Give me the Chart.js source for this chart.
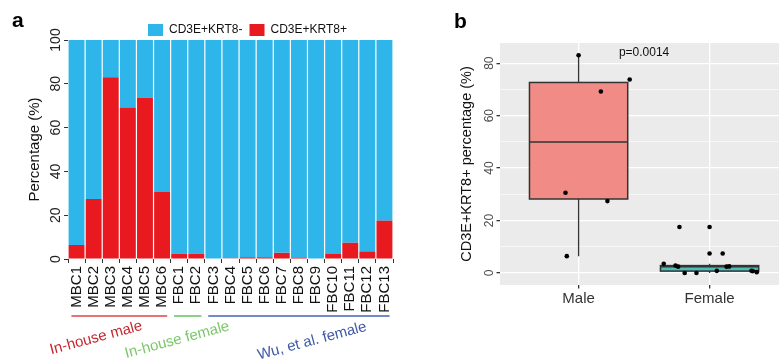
<!DOCTYPE html>
<html><head><meta charset="utf-8">
<script src="https://cdn.jsdelivr.net/npm/chart.js@4/dist/chart.umd.min.js"></script>
<style>
html,body{margin:0;padding:0;background:#fff;overflow:hidden;}
#wrap{position:relative;width:783px;height:363px;overflow:hidden;}
#ca{position:absolute;left:0;top:0;}
#cb{position:absolute;left:440px;top:0;}
</style></head><body>
<div id="wrap">
<canvas id="ca" width="495" height="363"></canvas>
<canvas id="cb" width="343" height="363"></canvas>
</div>
<script>
// ---------- data ----------
const categories = ['MBC1','MBC2','MBC3','MBC4','MBC5','MBC6','FBC1','FBC2','FBC3','FBC4','FBC5','FBC6','FBC7','FBC8','FBC9','FBC10','FBC11','FBC12','FBC13'];
const krt8Pos = [6.4, 27.4, 83, 69.2, 73.8, 30.6, 2.4, 2.4, 0, 0.3, 0.8, 0.8, 2.8, 0.7, 0, 2.5, 7.4, 3.5, 17.5];
const krt8Neg = [93.6, 72.6, 17, 30.8, 26.2, 69.4, 97.6, 97.6, 100, 99.7, 99.2, 99.2, 97.2, 99.3, 100, 97.5, 92.6, 96.5, 82.5];
const seriesNames = ['CD3E+KRT8+', 'CD3E+KRT8-'];
const yTicksA = [0, 20, 40, 60, 80, 100];

const groupNames = ['In-house male', 'In-house female', 'Wu, et al. female'];
const groupStart = [0, 6, 8];
const groupEnd = [5, 7, 18];

const sexLabels = ['Male', 'Female'];
const maleValues = [6.4, 27.4, 83, 69.2, 73.8, 30.6];
const femaleValues = [2.4, 2.4, 0, 0.3, 0.8, 0.8, 2.8, 0.7, 0, 2.5, 7.4, 3.5, 17.5];
// horizontal jitter (category units)
const maleJitter = [-0.09, 0.22, 0.0, 0.17, 0.39, -0.10];
const femaleJitter = [-0.24, 0.13, -0.19, 0.36, 0.055, 0.32, -0.26, 0.33, -0.10, 0.15, 0.10, -0.35, -0.23];
const yTicksB = [0, 10, 20, 30, 40, 50, 60, 70, 80];
const pValueText = 'p=0.0014';

// ---------- styles ----------
const FONT = "'Liberation Sans', Arial, Helvetica, sans-serif";
Chart.defaults.font.family = FONT;
const RED = '#e8191f', BLUE = '#2eb6ea';
const groupStyle = [
  {line:'#e0454a', text:'#c8262e', labelAt:1.14, labelY:338},
  {line:'#72c46e', text:'#7cc66a', labelAt:5.88, labelY:340},
  {line:'#4662b4', text:'#3d5aa8', labelAt:13.77, labelY:341}
];

function panelLetter(letter, x, y) {
  return {
    id: 'letter' + letter,
    afterDraw(chart) {
      const c = chart.ctx; c.save();
      c.font = 'bold 21px ' + FONT; c.fillStyle = '#000';
      c.textAlign = 'left'; c.textBaseline = 'alphabetic';
      c.fillText(letter, x, y); c.restore();
    }
  };
}

const groupPlugin = {
  id: 'groups',
  afterDraw(chart) {
    const xs = chart.scales.x, c = chart.ctx;
    const bw = xs.getPixelForValue(1) - xs.getPixelForValue(0);
    c.save();
    groupNames.forEach((name, i) => {
      const st = groupStyle[i];
      const x1 = xs.getPixelForValue(groupStart[i]) - 0.3 * bw;
      const x2 = xs.getPixelForValue(groupEnd[i]) + 0.3 * bw;
      c.strokeStyle = st.line; c.lineWidth = 1.6;
      c.beginPath(); c.moveTo(x1, 316); c.lineTo(x2, 316); c.stroke();
      c.save();
      c.translate(xs.getPixelForValue(st.labelAt), st.labelY);
      c.rotate(-15 * Math.PI / 180);
      c.font = '15px ' + FONT; c.fillStyle = st.text;
      c.textAlign = 'center'; c.textBaseline = 'middle';
      c.fillText(name, 0, 0);
      c.restore();
    });
    c.restore();
  }
};

// ---------- chart a ----------
new Chart(document.getElementById('ca'), {
  type: 'bar',
  data: {
    labels: categories,
    datasets: [
      {label: seriesNames[0], data: krt8Pos, backgroundColor: RED, borderWidth: 0, barPercentage: 0.93, categoryPercentage: 1},
      {label: seriesNames[1], data: krt8Neg, backgroundColor: BLUE, borderWidth: 0, barPercentage: 0.93, categoryPercentage: 1}
    ]
  },
  options: {
    responsive: false, animation: false,
    layout: {padding: {top: 17, left: 0, right: 0, bottom: 0}},
    plugins: {
      legend: {position: 'top', reverse: true, maxHeight: 23,
        labels: {boxWidth: 15, boxHeight: 12, padding: 7, font: {size: 12}, color: '#111'}},
      tooltip: {enabled: false}
    },
    scales: {
      x: {stacked: true,
        grid: {drawOnChartArea: false, tickLength: 4, tickColor: '#333', tickWidth: 1},
        border: {display: false},
        ticks: {minRotation: 90, maxRotation: 90, autoSkip: false, font: {size: 15}, color: '#111', padding: 3},
        afterFit(s) { s.height = 104; }
      },
      y: {stacked: true, min: 0, max: 100,
        afterBuildTicks(s) { s.ticks = yTicksA.map(v => ({value: v})); },
        ticks: {minRotation: 90, maxRotation: 90, crossAlign: 'center', padding: -4, font: {size: 14}, color: '#222'},
        grid: {drawOnChartArea: false, tickLength: 4, tickColor: '#333'},
        border: {display: false},
        title: {display: true, text: 'Percentage (%)', font: {size: 15}, color: '#111', padding: {top: 26, bottom: 0}},
        afterFit(s) { s.width = 68; }
      },
      yRight: {position: 'right', display: true,
        grid: {display: false}, ticks: {display: false}, border: {display: false},
        afterFit(s) { s.width = 102; }
      }
    }
  },
  plugins: [groupPlugin, panelLetter('a', 12, 27)]
});

// ---------- chart b ----------
function quantile(sorted, p) {
  const h = (sorted.length - 1) * p, lo = Math.floor(h);
  const hi = Math.min(lo + 1, sorted.length - 1);
  return sorted[lo] + (h - lo) * (sorted[hi] - sorted[lo]);
}
function boxStats(vals) {
  const s = vals.slice().sort((a, b) => a - b);
  const q1 = quantile(s, 0.25), med = quantile(s, 0.5), q3 = quantile(s, 0.75);
  const iqr = q3 - q1, lf = q1 - 1.5 * iqr, uf = q3 + 1.5 * iqr;
  const inside = s.filter(v => v >= lf && v <= uf);
  return {q1, med, q3, lo: inside[0], hi: inside[inside.length - 1], out: s.filter(v => v < lf || v > uf)};
}
const groupsB = [maleValues, femaleValues];
const jittersB = [maleJitter, femaleJitter];
const statsB = groupsB.map(boxStats);
const pointData = [];
groupsB.forEach((vals, gi) => vals.forEach((v, i) => pointData.push({x: gi + 1 + jittersB[gi][i], y: v})));
const outlierData = [];
statsB.forEach((st, gi) => st.out.forEach(v => outlierData.push({x: gi + 1, y: v})));

const boxFills = ['#f08b85', '#4dbdb7'];
const bgPlugin = {
  id: 'panelBg',
  beforeDraw(chart) {
    const a = chart.chartArea, c = chart.ctx;
    c.save(); c.fillStyle = '#ebebeb'; c.fillRect(a.left, a.top, a.right - a.left, a.bottom - a.top); c.restore();
  }
};
const boxPlugin = {
  id: 'boxes',
  beforeDatasetsDraw(chart) {
    const xs = chart.scales.x, ys = chart.scales.y, c = chart.ctx;
    c.save();
    statsB.forEach((st, gi) => {
      const cx = xs.getPixelForValue(gi + 1);
      const xl = xs.getPixelForValue(gi + 1 - 0.375), xr = xs.getPixelForValue(gi + 1 + 0.375);
      c.strokeStyle = '#333'; c.lineWidth = 1.3;
      c.beginPath();
      c.moveTo(cx, ys.getPixelForValue(st.q3)); c.lineTo(cx, ys.getPixelForValue(st.hi));
      c.moveTo(cx, ys.getPixelForValue(st.q1)); c.lineTo(cx, ys.getPixelForValue(st.lo));
      c.stroke();
      const yt = ys.getPixelForValue(st.q3), yb = ys.getPixelForValue(st.q1);
      c.fillStyle = boxFills[gi];
      c.fillRect(xl, yt, xr - xl, yb - yt);
      c.lineWidth = 1.5;
      c.strokeRect(xl, yt, xr - xl, yb - yt);
      c.beginPath();
      const ym = ys.getPixelForValue(st.med);
      c.moveTo(xl, ym); c.lineTo(xr, ym); c.stroke();
    });
    c.restore();
  },
  afterDatasetsDraw(chart) {
    const xs = chart.scales.x, ys = chart.scales.y, c = chart.ctx;
    c.save();
    c.font = '12px ' + FONT; c.fillStyle = '#111'; c.textAlign = 'center'; c.textBaseline = 'middle';
    c.fillText(pValueText, xs.getPixelForValue(1.5), ys.getPixelForValue(84));
    c.restore();
  }
};

new Chart(document.getElementById('cb'), {
  type: 'scatter',
  data: {
    datasets: [
      {label: 'points', data: pointData, backgroundColor: '#000', borderWidth: 0, pointRadius: 2.3},
      {label: 'outliers', data: outlierData, backgroundColor: '#000', borderWidth: 0, pointRadius: 2.3}
    ]
  },
  options: {
    responsive: false, animation: false,
    layout: {padding: {top: 43, left: 0, right: 0, bottom: 0}},
    plugins: {legend: {display: false}, tooltip: {enabled: false}},
    scales: {
      x: {type: 'linear', min: 0.4, max: 2.53,
        afterBuildTicks(s) { s.ticks = sexLabels.map((_, i) => ({value: i + 1})); },
        ticks: {callback: v => sexLabels[Math.round(v) - 1], font: {size: 15}, color: '#333', padding: 1, maxRotation: 0},
        grid: {color: '#ffffff', lineWidth: 1.3, tickColor: '#333', tickLength: 3.5},
        border: {display: false},
        afterFit(s) { s.height = 78; }
      },
      y: {min: -4.6, max: 87.7,
        afterBuildTicks(s) { s.ticks = yTicksB.map(v => ({value: v})); },
        ticks: {callback: v => (v % 20 === 0 ? String(v) : ''), minRotation: 90, maxRotation: 90, crossAlign: 'center', padding: 0, font: {size: 12}, color: '#4d4d4d'},
        grid: {color: '#ffffff', lineWidth: ctx => (ctx.tick && ctx.tick.value % 20 === 0 ? 1.3 : 0.6),
          tickColor: ctx => (ctx.tick && ctx.tick.value % 20 === 0 ? '#333' : 'rgba(0,0,0,0)'), tickLength: 3.5},
        border: {display: false},
        title: {display: true, text: 'CD3E+KRT8+ percentage (%)', font: {size: 14.5}, color: '#111', padding: {top: 18, bottom: 0}},
        afterFit(s) { s.width = 60; }
      }
    }
  },
  plugins: [bgPlugin, boxPlugin, panelLetter('b', 14, 28)]
});
</script>
</body></html>
